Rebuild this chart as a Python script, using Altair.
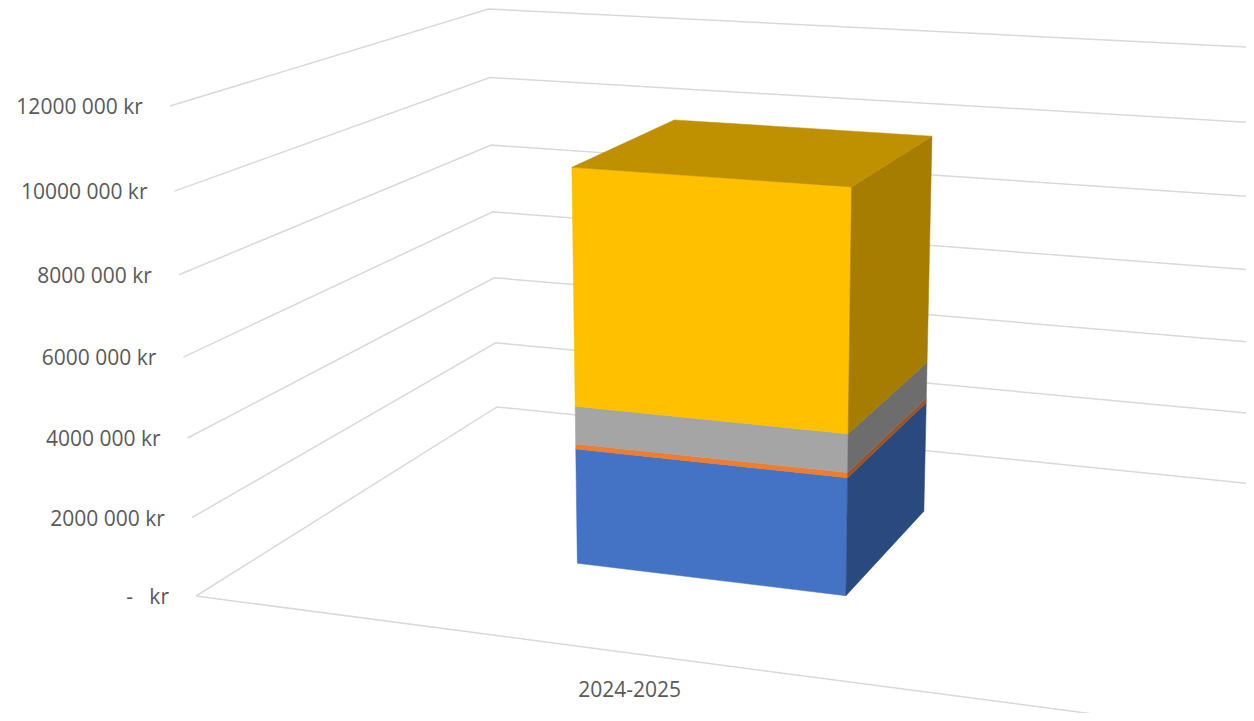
import altair as alt
import pandas as pd

# --- chart values ---
categories = ["2024-2025"]
series_names = ["Blue", "Orange", "Gray", "Yellow"]
series_values = [3000000, 130000, 970000, 6000000]
front_colors = ["#4472C4", "#ED7D31", "#A5A5A5", "#FFC000"]
side_colors = ["#2A4A7F", "#9C5324", "#6D6D6D", "#A67D00"]
top_color = "#BF9000"
tick_values = [0, 2000000, 4000000, 6000000, 8000000, 10000000, 12000000]
tick_labels = ["-\u00a0\u00a0\u00a0kr", "2000 000 kr", "4000 000 kr", "6000 000 kr", "8000 000 kr", "10000 000 kr", "12000 000 kr"]
AXIS_MAX = 12000000

# --- perspective camera of the 3-D chart (across u, value v, depth w) ---
CAM_X = (196.0, 797.4, -34.2, 421.6)
CAM_Y = (596.0, 41.7, -495.0, -90.3)
CAM_D = (1.0, -0.1108, -0.048, 0.2426)
BAR_U = (0.344, 0.656)
BAR_W = (0.302, 0.697)


def project(u, value, w):
    v = value / AXIS_MAX
    d = CAM_D[0] + CAM_D[1] * u + CAM_D[2] * v + CAM_D[3] * w
    return (
        (CAM_X[0] + CAM_X[1] * u + CAM_X[2] * v + CAM_X[3] * w) / d,
        (CAM_Y[0] + CAM_Y[1] * u + CAM_Y[2] * v + CAM_Y[3] * w) / d,
    )


W, H = 1238, 705
x_scale = alt.Scale(domain=[8, 8 + W], nice=False, zero=False)
y_scale = alt.Scale(domain=[8 + H, 8], nice=False, zero=False)
X = alt.X("x:Q", scale=x_scale, axis=None)
Y = alt.Y("y:Q", scale=y_scale, axis=None)


def path_frame(points):
    rows = [{"x": p[0], "y": p[1], "i": i} for i, p in enumerate(points)]
    return pd.DataFrame(rows)


def polygon(points, color):
    return (
        alt.Chart(path_frame(points))
        .mark_line(interpolate="linear-closed", fill=color, stroke=color, strokeWidth=0.5, clip=True)
        .encode(x=X, y=Y, order="i:Q")
    )


def grid_line(points):
    return (
        alt.Chart(path_frame(points))
        .mark_line(stroke="#D9D9D9", strokeWidth=1.5, clip=True)
        .encode(x=X, y=Y, order="i:Q")
    )


layers = []

# grid: left wall + back wall at each tick, floor front edge
for t in tick_values:
    layers.append(grid_line([project(0, t, 0), project(0, t, 1), project(1.01, t, 1)]))
layers.append(grid_line([project(0, 0, 0), project(1, 0, 0)]))

# stacked 3-D bar
u0, u1 = BAR_U
w0, w1 = BAR_W
base = 0
for value, fc, sc in zip(series_values, front_colors, side_colors):
    top = base + value
    layers.append(polygon([project(u0, base, w0), project(u1, base, w0), project(u1, top, w0), project(u0, top, w0)], fc))
    layers.append(polygon([project(u1, base, w0), project(u1, base, w1), project(u1, top, w1), project(u1, top, w0)], sc))
    base = top
layers.append(polygon([project(u0, base, w0), project(u1, base, w0), project(u1, base, w1), project(u0, base, w1)], top_color))

# value labels
lab_rows = []
for t, s in zip(tick_values, tick_labels):
    px, py = project(0, t, 0)
    lab_rows.append({"x": px, "y": py, "label": s})
layers.append(
    alt.Chart(pd.DataFrame(lab_rows))
    .mark_text(align="right", baseline="middle", dx=-27, dy=2, font="Open Sans", fontSize=21, color="#595959")
    .encode(x=X, y=Y, text="label:N")
)

# category label
cx, cy = project(0.5, 0, 0)
layers.append(
    alt.Chart(pd.DataFrame([{"x": cx, "y": cy, "label": categories[0]}]))
    .mark_text(align="center", baseline="middle", dy=38, font="Open Sans", fontSize=21, color="#595959")
    .encode(x=X, y=Y, text="label:N")
)

chart = (
    alt.layer(*layers)
    .properties(width=W, height=H, padding=0, autosize=alt.AutoSizeParams(type="none"))
    .configure_view(stroke=None)
)
chart.save("out.html", embed_options={"renderer": "svg", "actions": False})
